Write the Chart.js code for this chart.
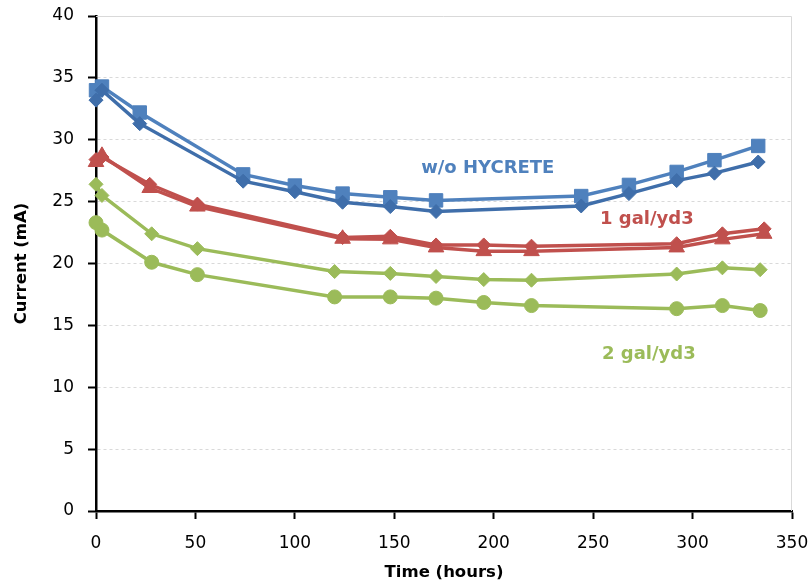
<!DOCTYPE html>
<html><head><meta charset="utf-8">
<script src="https://cdn.jsdelivr.net/npm/chart.js@4"></script>
<style>html,body{margin:0;padding:0;background:#fff}#wrap{width:809px;height:586px;position:relative}</style>
</head><body><div id="wrap"><canvas id="c" width="809" height="586"></canvas></div>
<script>
// ---- data ----
const blueTime = [0, 3, 22, 74, 100, 124, 148, 171, 244, 268, 292, 311, 333];
const blueSquare = [34.0, 34.3, 32.2, 27.2, 26.3, 25.65, 25.35, 25.1, 25.45, 26.35, 27.4, 28.35, 29.5];
const blueDiamond = [33.2, 34.0, 31.3, 26.65, 25.8, 24.95, 24.6, 24.2, 24.65, 25.65, 26.7, 27.3, 28.2];

const redTime = [0, 3, 27, 51, 124, 148, 171, 195, 219, 292, 315, 336];
const redTriangle = [28.2, 28.7, 26.1, 24.6, 22.0, 21.95, 21.3, 21.0, 21.0, 21.3, 21.95, 22.4];
const redDiamond = [28.4, 28.6, 26.4, 24.8, 22.1, 22.2, 21.5, 21.5, 21.4, 21.6, 22.4, 22.8];

const greenTime = [0, 3, 28, 51, 120, 148, 171, 195, 219, 292, 315, 334];
const greenDiamond = [26.4, 25.5, 22.4, 21.2, 19.35, 19.2, 18.95, 18.7, 18.65, 19.15, 19.65, 19.5];
const greenCircle = [23.3, 22.7, 20.1, 19.1, 17.3, 17.3, 17.2, 16.85, 16.6, 16.35, 16.6, 16.2];

const xMin = 0, xMax = 350, xStep = 50;
const yMin = 0, yMax = 40, yStep = 5;

const noteText = ['w/o HYCRETE', '1 gal/yd3', '2 gal/yd3'];
const noteX = [197, 277, 278];
const noteY = [27.7, 23.55, 12.65];
const noteColor = ['#4F81BD', '#C0504D', '#9BBB59'];

// ---- build ----
const pts = (xs, ys) => xs.map((x, i) => ({x: x, y: ys[i]}));
function ds(label, xs, ys, color, style, r) {
  return {label, data: pts(xs, ys), borderColor: color, backgroundColor: color,
    borderWidth: 3.5, pointStyle: style, pointRadius: r, pointHoverRadius: r, clip: false,
    pointBorderWidth: 1, pointBorderColor: color, pointBackgroundColor: color, tension: 0, fill: false};
}

const plotBorder = {
  id: 'plotBorder',
  beforeDatasetsDraw(chart) {
    const a = chart.chartArea, ctx = chart.ctx;
    ctx.save();
    ctx.strokeStyle = '#D9D9D9'; ctx.lineWidth = 1;
    ctx.beginPath();
    ctx.moveTo(a.left, a.top + 0.5); ctx.lineTo(a.right - 0.5, a.top + 0.5); ctx.lineTo(a.right - 0.5, a.bottom);
    ctx.stroke();
    ctx.restore();
  }
};
const notes = {
  id: 'notes',
  afterDatasetsDraw(chart) {
    const ctx = chart.ctx, sx = chart.scales.x, sy = chart.scales.y;
    ctx.save();
    ctx.textAlign = 'center'; ctx.textBaseline = 'middle';
    ctx.font = 'bold 18px "DejaVu Sans"';
    noteText.forEach((t, i) => {
      ctx.fillStyle = noteColor[i];
      ctx.fillText(t, sx.getPixelForValue(noteX[i]), sy.getPixelForValue(noteY[i]));
    });
    ctx.restore();
  }
};

const tickFont = {family: 'DejaVu Sans', size: 17};
const titleFont = {family: 'DejaVu Sans', size: 16.5, weight: 'bold'};

new Chart(document.getElementById('c'), {
  type: 'line',
  data: {datasets: [
    ds('w/o HYCRETE (a)', blueTime, blueDiamond, '#3F6EAA', 'rectRot', 7),
    ds('w/o HYCRETE (b)', blueTime, blueSquare, '#4F81BD', 'rect', 9.5),
    ds('1 gal/yd3 (a)', redTime, redTriangle, '#C0504D', 'triangle', 9),
    ds('1 gal/yd3 (b)', redTime, redDiamond, '#C0504D', 'rectRot', 7),
    ds('2 gal/yd3 (a)', greenTime, greenDiamond, '#9BBB59', 'rectRot', 7),
    ds('2 gal/yd3 (b)', greenTime, greenCircle, '#9BBB59', 'circle', 7)
  ]},
  options: {
    responsive: false, devicePixelRatio: 1, animation: false,
    layout: {padding: {top: 16, right: 17, left: 0, bottom: 0}},
    plugins: {legend: {display: false}, tooltip: {enabled: false}},
    scales: {
      x: {
        type: 'linear', min: xMin, max: xMax,
        afterFit: s => { s.height = 75; s.paddingLeft = 0; s.paddingRight = 0; },
        ticks: {stepSize: xStep, font: tickFont, color: '#000', padding: 14, maxRotation: 0},
        grid: {drawOnChartArea: false, tickLength: 8, tickColor: '#000', tickWidth: 2},
        border: {color: '#000', width: 2.5},
        title: {display: true, text: 'Time (hours)', font: titleFont, color: '#000', padding: {top: 0, bottom: 3}}
      },
      y: {
        type: 'linear', min: yMin, max: yMax,
        afterFit: s => { s.width = 96; s.paddingTop = 0; s.paddingBottom = 0; },
        ticks: {stepSize: yStep, font: tickFont, color: '#000', padding: 14},
        grid: {color: c => c.tick && c.tick.value === 0 ? 'rgba(0,0,0,0)' : '#D9D9D9', lineWidth: 1,
               tickLength: 8, tickColor: '#000', tickWidth: 2, tickBorderDash: []},
        border: {color: '#000', width: 2.5, dash: [3, 3]},
        title: {display: true, text: 'Current (mA)', font: titleFont, color: '#000', padding: {top: 12, bottom: 0}}
      }
    }
  },
  plugins: [plotBorder, notes]
});
</script>
</body></html>
